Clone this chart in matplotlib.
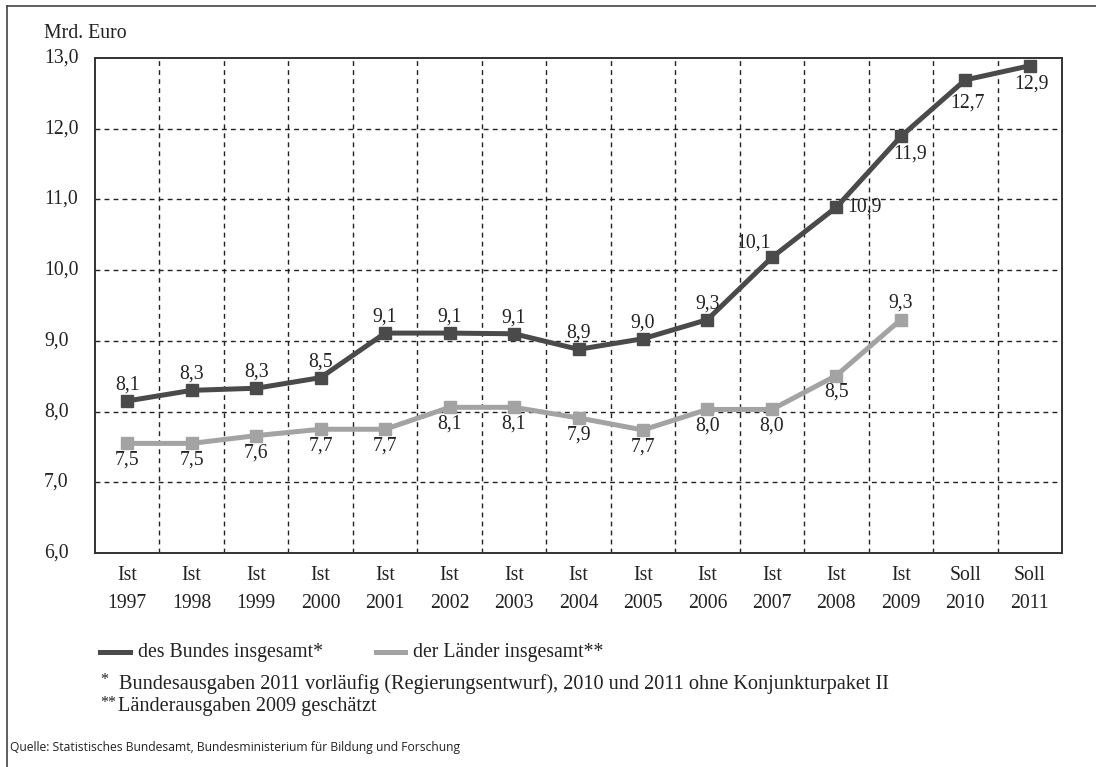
import matplotlib
matplotlib.use("Agg")
import matplotlib.pyplot as plt
from matplotlib.lines import Line2D
from matplotlib.transforms import blended_transform_factory

# Werte (Mrd. Euro)
status = ["Ist"] * 13 + ["Soll", "Soll"]
years = ["1997", "1998", "1999", "2000", "2001", "2002", "2003", "2004",
         "2005", "2006", "2007", "2008", "2009", "2010", "2011"]
bund = [8.15, 8.30, 8.33, 8.48, 9.11, 9.11, 9.10, 8.88, 9.03, 9.30,
        10.18, 10.89, 11.89, 12.69, 12.89]
bund_labels = ["8,1", "8,3", "8,3", "8,5", "9,1", "9,1", "9,1", "8,9", "9,0",
               "9,3", "10,1", "10,9", "11,9", "12,7", "12,9"]
laender = [7.55, 7.55, 7.66, 7.75, 7.75, 8.06, 8.06, 7.91, 7.74, 8.03,
           8.03, 8.51, 9.30]
laender_labels = ["7,5", "7,5", "7,6", "7,7", "7,7", "8,1", "8,1", "7,9",
                  "7,7", "8,0", "8,0", "8,5", "9,3"]
yticks = [6, 7, 8, 9, 10, 11, 12, 13]

dark = "#4a4a4a"
light = "#a3a3a3"
txt = "#222222"
fs = 14.2
plt.rcParams['font.family'] = ["Liberation Serif", "DejaVu Serif"]

fig = plt.figure(figsize=(10.96, 7.67), dpi=100)
ax = fig.add_axes([95 / 1096, 1 - 553 / 767, 967 / 1096, 495 / 767])

x = list(range(len(years)))
ax.plot(x, bund, color=dark, lw=3.6, marker="s", ms=9, zorder=4)
ax.plot(x[:len(laender)], laender, color=light, lw=3.6, marker="s", ms=9, zorder=3)

ax.set_xlim(-0.5, len(years) - 0.5)
ax.set_ylim(6, 13)

# gestricheltes Raster
for i in range(1, len(years)):
    ax.axvline(i - 0.5, color="#222222", lw=1, dashes=(3.5, 3), zorder=1)
for v in yticks[1:-1]:
    ax.axhline(v, color="#222222", lw=1, dashes=(3.5, 3), zorder=1)

for s in ax.spines.values():
    s.set_color("#333333")
    s.set_linewidth(1.4)
ax.set_xticks([])
ax.set_yticks([])

# y-Beschriftung, linksbündig
ytrans = blended_transform_factory(fig.transFigure, ax.transData)
for v in yticks:
    ax.text(44 / 1096, v, ("%.1f" % v).replace(".", ","), transform=ytrans,
            fontsize=fs, ha="left", va="center", color=txt)

for i in x:
    ax.annotate(status[i], (i, 6), xytext=(0, -23), textcoords="offset pixels",
                ha="center", va="center", fontsize=fs, color=txt)
    ax.annotate(years[i], (i, 6), xytext=(0, -50), textcoords="offset pixels",
                ha="center", va="center", fontsize=fs, color=txt)

fig.text(44 / 1096, 1 - 33 / 767, "Mrd. Euro", fontsize=fs, ha="left",
         va="center", color=txt)

# Datenbeschriftungen
bund_off = {10: (-18, 14, "center"), 11: (11, 0, "left"), 12: (9, -18, "center"),
            13: (2, -23, "center"), 14: (2, -18, "center")}
for i, (v, lab) in enumerate(zip(bund, bund_labels)):
    dx, dy, ha = bund_off.get(i, (0, 16, "center"))
    ax.annotate(lab, (i, v), xytext=(dx, dy), textcoords="offset pixels",
                ha=ha, va="center", fontsize=fs, color=txt, zorder=6)
for i, (v, lab) in enumerate(zip(laender, laender_labels)):
    dy = 17 if i == len(laender) - 1 else -17
    ax.annotate(lab, (i, v), xytext=(0, dy), textcoords="offset pixels",
                ha="center", va="center", fontsize=fs, color=txt, zorder=6)

# Legende
ly = 1 - 652 / 767
fig.add_artist(Line2D([100 / 1096, 130 / 1096], [ly, ly], color=dark, lw=3.6))
fig.text(138 / 1096, ly, "des Bundes insgesamt*", fontsize=fs, va="center", color=txt)
fig.add_artist(Line2D([376 / 1096, 405 / 1096], [ly, ly], color=light, lw=3.6))
fig.text(413 / 1096, ly, "der Länder insgesamt**", fontsize=fs, va="center", color=txt)

# Fußnoten
fig.text(100 / 1096, 1 - 680 / 767, "*", fontsize=11.5, va="center", color=txt)
fig.text(119 / 1096, 1 - 684 / 767,
         "Bundesausgaben 2011 vorläufig (Regierungsentwurf), 2010 und 2011 ohne Konjunkturpaket II",
         fontsize=14.6, va="center", color=txt)
fig.text(100 / 1096, 1 - 703 / 767, "**", fontsize=11.5, va="center", color=txt)
fig.text(118 / 1096, 1 - 707 / 767, "Länderausgaben 2009 geschätzt",
         fontsize=14.6, va="center", color=txt)
fig.text(10 / 1096, 1 - 748 / 767,
         "Quelle: Statistisches Bundesamt, Bundesministerium für Bildung und Forschung",
         fontsize=8.7, va="center", color=txt, family=["Open Sans", "DejaVu Sans"])

# Rahmen oben und links
fig.add_artist(Line2D([7 / 1096, 1], [1 - 6 / 767, 1 - 6 / 767], color="#444444", lw=1.2))
fig.add_artist(Line2D([7 / 1096, 7 / 1096], [0, 1 - 6 / 767], color="#444444", lw=1.2))

fig.savefig("out.png", dpi=100)
